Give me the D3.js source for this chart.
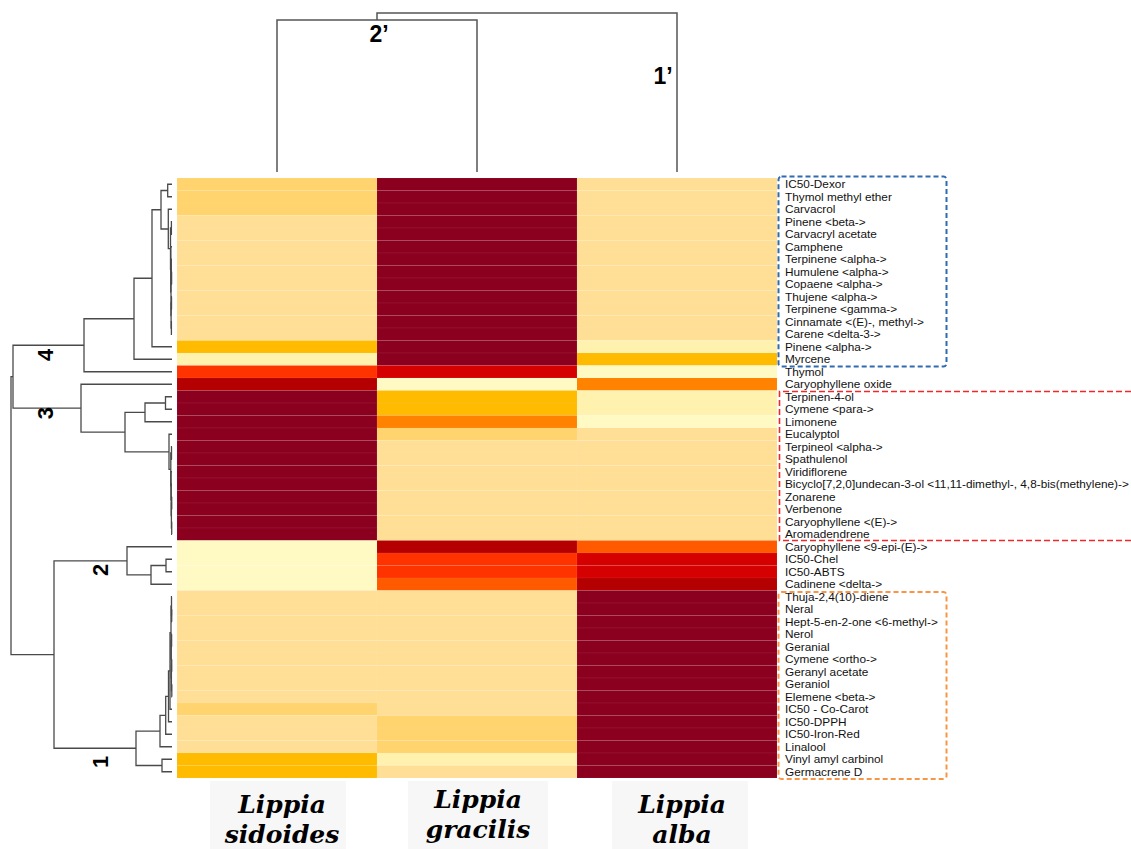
<!DOCTYPE html>
<html>
<head>
<meta charset="utf-8">
<script src="https://cdn.jsdelivr.net/npm/d3@7"></script>
<style>
  html, body { margin: 0; padding: 0; background: #fff; }
  svg { display: block; }
</style>
</head>
<body>
<svg id="chart" width="1131" height="849"></svg>
<script>
// Compounds / assays, in dendrogram leaf order (top to bottom)
const rows = [
  "IC50-Dexor", "Thymol methyl ether", "Carvacrol", "Pinene <beta->", "Carvacryl acetate",
  "Camphene", "Terpinene <alpha->", "Humulene <alpha->", "Copaene <alpha->", "Thujene <alpha->",
  "Terpinene <gamma->", "Cinnamate <(E)-, methyl->", "Carene <delta-3->", "Pinene <alpha->", "Myrcene",
  "Thymol", "Caryophyllene oxide", "Terpinen-4-ol", "Cymene <para->", "Limonene",
  "Eucalyptol", "Terpineol <alpha->", "Spathulenol", "Viridiflorene",
  "Bicyclo[7,2,0]undecan-3-ol <11,11-dimethyl-, 4,8-bis(methylene)->",
  "Zonarene", "Verbenone", "Caryophyllene <(E)->", "Aromadendrene",
  "Caryophyllene <9-epi-(E)->", "IC50-Chel", "IC50-ABTS", "Cadinene <delta->",
  "Thuja-2,4(10)-diene", "Neral", "Hept-5-en-2-one <6-methyl->", "Nerol", "Geranial",
  "Cymene <ortho->", "Geranyl acetate", "Geraniol", "Elemene <beta->", "IC50 - Co-Carot",
  "IC50-DPPH", "IC50-Iron-Red", "Linalool", "Vinyl amyl carbinol", "Germacrene D"
];

// Species (columns)
const species = ["Lippia sidoides", "Lippia gracilis", "Lippia alba"];

// Relative intensity level (0 = lowest, 10 = highest) per compound
const sidoides = [3,3,3, 2,2,2,2,2,2,2,2,2,2, 4,1, 7,9, 10,10,10,10,10,10,10,10,10,10,10,10, 0,0,0,0, 2,2,2,2,2,2,2,2,2, 3, 2,2,2, 4,4];
const gracilis = [10,10,10,10,10,10,10,10,10,10,10,10,10,10,10, 8,0, 4,4,5,3, 2,2,2,2,2,2,2,2, 9,7,7,6, 2,2,2,2,2,2,2,2,2,2, 3,3,3, 1,2];
const alba     = [2,2,2,2,2,2,2,2,2,2,2,2,2, 1,4, 0,5, 1,1,0, 2,2,2,2,2,2,2,2,2, 6,8,8,9, 10,10,10,10,10,10,10,10,10,10,10,10,10,10,10];

// Heat palette, light to dark
const palette = ["#FFF9C4","#FFF1AE","#FFDF96","#FFD36E","#FFBB00","#FF8200","#FF5A00","#FF3300","#D50000","#B40000","#8C001F"];

// Row clustering (merge heights in distance units)
const n = (h, a, b) => ({ h, children: [a, b] });
const rowTree = n(16.1,
  n(15.9,
    n(8.8,
      n(3.8,
        n(2.0,
          n(1.1,
            n(0.43, rows[0], rows[1]),
            n(0.37, rows[2],
              n(0.15,
                n(0.06, rows[3], rows[4]),
                n(0.12, rows[5],
                  n(0.1,
                    n(0.07, rows[6], n(0.04, rows[7], rows[8])),
                    n(0.09, n(0.05, rows[9], rows[10]), n(0.06, rows[11], rows[12]))))))),
          rows[13]),
        rows[14]),
      rows[15]),
    n(9.1, rows[16],
      n(4.7,
        n(2.7, n(0.65, rows[17], rows[18]), rows[19]),
        n(0.3, rows[20],
          n(0.12,
            n(0.05, rows[21], rows[22]),
            n(0.1, rows[23],
              n(0.08, rows[24],
                n(0.06, n(0.03, rows[25], rows[26]), n(0.03, rows[27], rows[28]))))))))),
  n(11.8,
    n(4.5, rows[29], n(2.1, n(0.6, rows[30], rows[31]), rows[32])),
    n(3.6,
      n(1.2,
        n(0.63,
          n(0.35,
            n(0.2,
              n(0.1,
                n(0.05, rows[33], n(0.03, rows[34], rows[35])),
                n(0.08, n(0.04, rows[36], rows[37]), n(0.06, n(0.03, rows[38], rows[39]), n(0.02, rows[40], rows[41])))),
              rows[42]),
            rows[43]),
          rows[44]),
        rows[45]),
      n(1.0, rows[46], rows[47]))));

// Column clustering
const colTree = n(1.0, n(0.956, species[0], species[1]), species[2]);

// Cluster numbers on the row dendrogram (row position, dendrogram height)
const rowClusterLabels = [
  { text: "4", row: 14.15, h: 12.7 },
  { text: "3", row: 18.8, h: 12.7 },
  { text: "2", row: 31.35, h: 7.2 },
  { text: "1", row: 46.7, h: 7.2 }
];

// ---------------------------------------------------------------
const svg = d3.select("#chart");
const values = [sidoides, gracilis, alba];

const hm = { left: 177, right: 777, top: 178, bottom: 778 };

const x = d3.scaleBand().domain(species).range([hm.left, hm.right]);
const y = d3.scaleBand().domain(rows).range([hm.top, hm.bottom]);
const color = d3.scaleThreshold().domain(d3.range(1, palette.length)).range(palette);

// Heatmap cells
const cells = [];
species.forEach((s, j) => rows.forEach((r, i) => cells.push({ s, r, v: values[j][i] })));

svg.append("g")
  .selectAll("rect")
  .data(cells)
  .join("rect")
  .attr("x", d => x(d.s))
  .attr("y", d => y(d.r))
  .attr("width", x.bandwidth())
  .attr("height", y.bandwidth())
  .attr("fill", d => color(d.v))
  .attr("stroke", "rgba(255,255,255,0.08)")
  .attr("stroke-width", 0.6);

// Row dendrogram
const rowX = d3.scaleLinear().domain([0, 16.1]).range([172, 11]);
const rootR = d3.hierarchy(rowTree, d => (typeof d === "string" ? null : d.children));
rootR.eachAfter(node => {
  if (!node.children) {
    node.py = y(node.data) + y.bandwidth() / 2;
    node.ph = 0;
  } else {
    node.py = d3.mean(node.children, c => c.py);
    node.ph = node.data.h;
  }
});

const rowLinks = [];
rootR.each(node => {
  if (!node.children) return;
  const [a, b] = node.children;
  const xn = rowX(node.ph);
  rowLinks.push(`M${rowX(a.ph)},${a.py}H${xn}V${b.py}H${rowX(b.ph)}`);
});

svg.append("g")
  .attr("fill", "none")
  .attr("stroke", "#4a4a4a")
  .attr("stroke-width", 1.3)
  .selectAll("path")
  .data(rowLinks)
  .join("path")
  .attr("d", d => d);

// Column dendrogram
const colY = d3.scaleLinear().domain([0, 1]).range([172, 13]);
const rootC = d3.hierarchy(colTree, d => (typeof d === "string" ? null : d.children));
rootC.eachAfter(node => {
  if (!node.children) {
    node.px = x(node.data) + x.bandwidth() / 2;
    node.ph = 0;
  } else {
    node.px = d3.mean(node.children, c => c.px);
    node.ph = node.data.h;
  }
});
const colLinks = [];
rootC.each(node => {
  if (!node.children) return;
  const [a, b] = node.children;
  const yn = colY(node.ph);
  colLinks.push(`M${a.px},${colY(a.ph)}V${yn}H${b.px}V${colY(b.ph)}`);
});
svg.append("g")
  .attr("fill", "none")
  .attr("stroke", "#555")
  .attr("stroke-width", 1.5)
  .selectAll("path")
  .data(colLinks)
  .join("path")
  .attr("d", d => d);

// Column cluster labels
svg.append("text").attr("x", 379).attr("y", 42)
  .attr("text-anchor", "middle")
  .attr("font-family", "Liberation Sans, Arial, sans-serif")
  .attr("font-weight", "bold").attr("font-size", 23).attr("fill", "#000")
  .text("2’");
svg.append("text").attr("x", 663).attr("y", 84)
  .attr("text-anchor", "middle")
  .attr("font-family", "Liberation Sans, Arial, sans-serif")
  .attr("font-weight", "bold").attr("font-size", 23).attr("fill", "#000")
  .text("1’");

// Row cluster labels, reading bottom to top
svg.append("g")
  .selectAll("text")
  .data(rowClusterLabels)
  .join("text")
  .attr("transform", d => `translate(${rowX(d.h)},${hm.top + d.row * y.step()}) rotate(-90)`)
  .attr("text-anchor", "middle")
  .attr("dominant-baseline", "central")
  .attr("font-family", "Liberation Sans, Arial, sans-serif")
  .attr("font-weight", "bold").attr("font-size", 22).attr("fill", "#000")
  .text(d => d.text);

// Row labels
svg.append("g")
  .selectAll("text")
  .data(rows)
  .join("text")
  .attr("x", hm.right + 8)
  .attr("y", d => y(d) + y.bandwidth() / 2 + 4)
  .attr("font-family", "Liberation Sans, Arial, sans-serif")
  .attr("font-size", 11.8)
  .attr("fill", "#111")
  .text(d => d);

// Group outlines
svg.append("rect")
  .attr("x", 778.5).attr("y", 176.5).attr("width", 168).attr("height", 190).attr("rx", 3)
  .attr("fill", "none").attr("stroke", "#2F6BB0").attr("stroke-width", 2)
  .attr("stroke-dasharray", "5,3");
svg.append("path")
  .attr("d", "M1131,391.5H779.5V540.5H1131")
  .attr("fill", "none").attr("stroke", "#F02828").attr("stroke-width", 1.6)
  .attr("stroke-dasharray", "6,3");
svg.append("rect")
  .attr("x", 778.5).attr("y", 592).attr("width", 168).attr("height", 187).attr("rx", 3)
  .attr("fill", "none").attr("stroke", "#F79646").attr("stroke-width", 2)
  .attr("stroke-dasharray", "5,3");

// Species labels
const labelBoxes = [
  { s: species[0], x0: 210, x1: 346, cx: 282, y1: 813, y2: 843 },
  { s: species[1], x0: 408, x1: 548, cx: 478, y1: 808, y2: 838 },
  { s: species[2], x0: 612, x1: 748, cx: 682, y1: 813, y2: 843 }
];
const lab = svg.append("g");
lab.selectAll("rect")
  .data(labelBoxes)
  .join("rect")
  .attr("x", d => d.x0).attr("y", 781)
  .attr("width", d => d.x1 - d.x0).attr("height", 68)
  .attr("fill", "#f7f7f7");
labelBoxes.forEach(d => {
  const parts = d.s.split(" ");
  const t = lab.append("text")
    .attr("text-anchor", "middle")
    .attr("font-family", "DejaVu Serif, Georgia, serif")
    .attr("font-style", "italic").attr("font-weight", "bold")
    .attr("font-size", 25).attr("fill", "#000");
  t.append("tspan").attr("x", d.cx).attr("y", d.y1).text(parts[0]);
  t.append("tspan").attr("x", d.cx).attr("y", d.y2).text(parts[1]);
});
</script>
</body>
</html>
